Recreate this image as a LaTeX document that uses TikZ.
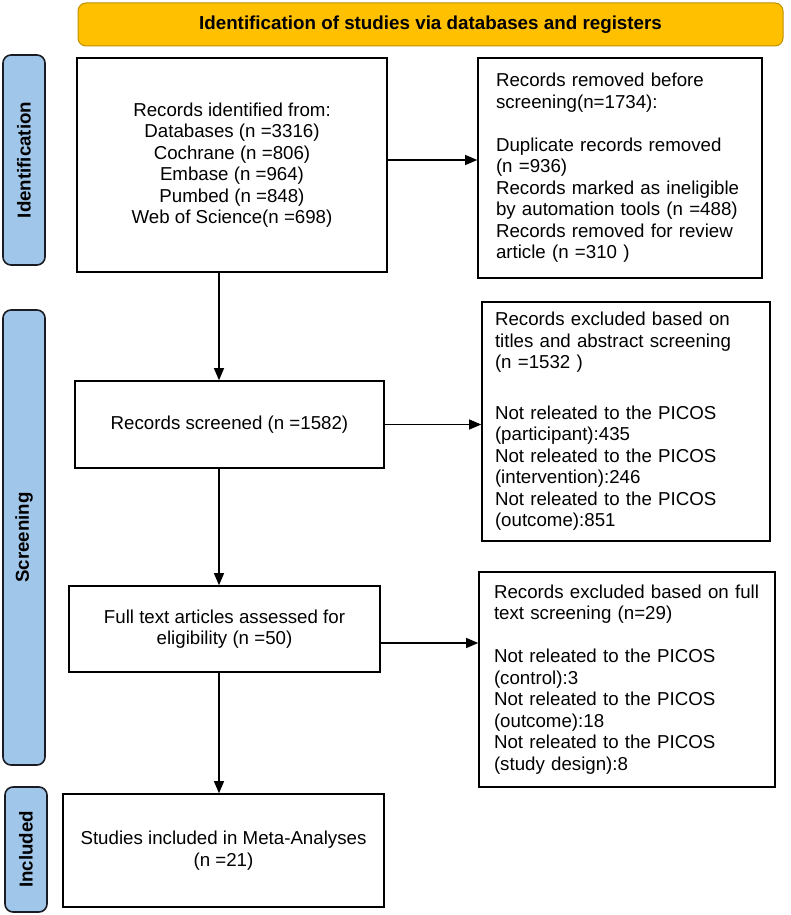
\documentclass[tikz,border=0pt]{standalone}
\usepackage{fontspec}
\setmainfont{Liberation Sans}
\usetikzlibrary{arrows.meta}
\definecolor{hdrfill}{RGB}{255,192,0}
\definecolor{hdrdraw}{RGB}{191,144,0}
\definecolor{barfill}{RGB}{160,198,234}
\definecolor{bardraw}{RGB}{25,28,35}
\tikzset{
  txt/.style={font=\fontsize{18.7}{21.5}\selectfont},
  box/.style={txt, draw=black, line width=1.6pt, inner sep=0pt, fill=white},
  lbox/.style={box, align=left},
  cbox/.style={box, align=center},
  bar/.style={draw=bardraw, fill=barfill, line width=1.6pt, rounded corners=8pt,
    rotate=90, inner sep=0pt, font=\fontsize{18.7}{21.5}\selectfont\bfseries},
  hdr/.style={draw=hdrdraw, fill=hdrfill, line width=1pt, rounded corners=8pt,
    inner sep=0pt, font=\fontsize{18.8}{21.5}\selectfont\bfseries},
  arr/.style={line width=1.1pt, -{Triangle[length=12pt,width=10pt]}}
}
\begin{document}
\begin{tikzpicture}[x=1pt,y=-1pt]
\useasboundingbox (0,0) rectangle (791,915);
% header
\node[hdr, minimum width=705pt, minimum height=43pt] (hdr) at (430.5,24.5)
  {Identification of studies via databases and registers};
% side bars
\node[bar, minimum width=210pt, minimum height=42pt] (bid) at (24,160) {Identification};
\node[bar, minimum width=455pt, minimum height=42pt] (bsc) at (24,537.5) {Screening};
\node[bar, minimum width=125pt, minimum height=42pt] (bin) at (26,849.5) {Included};
% left boxes
\node[cbox, minimum width=310pt, minimum height=214pt] (b1) at (232,165)
  {Records identified from:\\Databases (n =3316)\\Cochrane (n =806)\\Embase (n =964)\\Pumbed (n =848)\\Web of Science(n =698)};
\node[cbox, minimum width=309pt, minimum height=87pt] (b3) at (229.5,424.5)
  {Records screened (n =1582)};
\node[cbox, minimum width=311pt, minimum height=86pt] (b5) at (224.5,629)
  {Full text articles assessed for\\eligibility (n =50)};
\node[cbox, minimum width=321pt, minimum height=113pt] (b7) at (223.5,850.5)
  {Studies included in Meta-Analyses\\(n =21)};
% right boxes
\node[lbox, minimum width=284pt, minimum height=220pt, text width=248pt, inner xsep=18pt] (b2) at (620,168)
  {Records removed before\\screening(n=1734):\\[21.5pt]Duplicate records removed\\(n =936)\\Records marked as ineligible\\by automation tools (n =488)\\Records removed for review\\article (n =310 )};
\node[lbox, minimum width=288pt, minimum height=239pt, text width=262pt, inner xsep=13pt] (b4) at (626,421.5)
  {Records excluded based on\\titles and abstract screening\\(n =1532 )\\[29pt]Not releated to the PICOS\\(participant):435\\Not releated to the PICOS\\(intervention):246\\Not releated to the PICOS\\(outcome):851};
\node[lbox, minimum width=296pt, minimum height=215pt, text width=266pt, inner xsep=15pt] (b6) at (627,679.5)
  {Records excluded based on full\\text screening (n=29)\\[21.5pt]Not releated to the PICOS\\(control):3\\Not releated to the PICOS\\(outcome):18\\Not releated to the PICOS\\(study design):8};
% connectors
\draw[arr] ([yshift=5pt]b1.east) -- ([yshift=5pt]b1.east -| b2.west);
\draw[arr] ([xshift=-13pt]b1.south) -- ([xshift=-13pt]b1.south |- b3.north);
\draw[arr] (b3.east) -- (b3.east -| b4.west);
\draw[arr] ([xshift=-10.5pt]b3.south) -- ([xshift=-10.5pt]b3.south |- b5.north);
\draw[arr] ([yshift=-14pt]b5.east) -- ([yshift=-14pt]b5.east -| b6.west);
\draw[arr] ([xshift=-5.5pt]b5.south) -- ([xshift=-5.5pt]b5.south |- b7.north);
\end{tikzpicture}
\end{document}
